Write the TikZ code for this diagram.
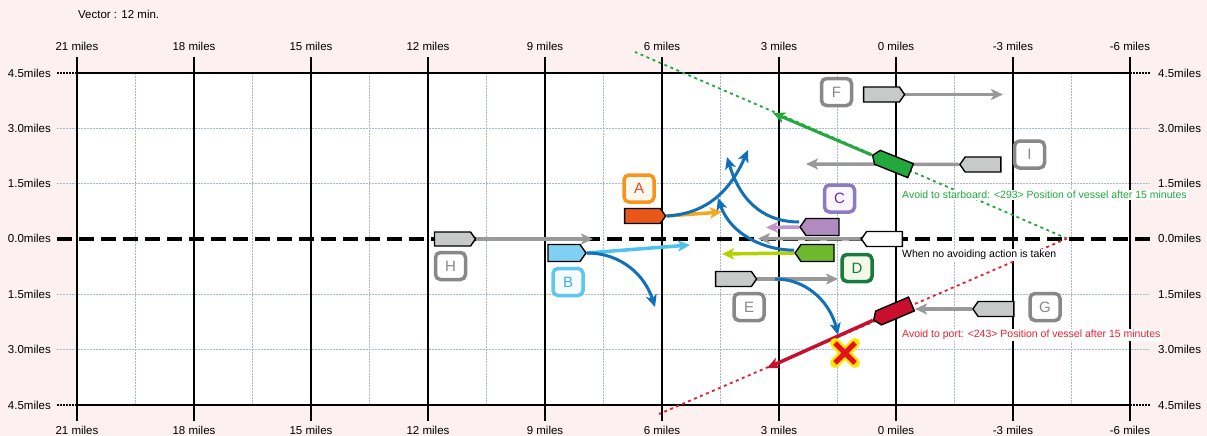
\documentclass[tikz,border=0pt]{standalone}
\usepackage{fontspec}
\setmainfont{Liberation Sans}
\usetikzlibrary{arrows.meta,shapes.symbols}

\definecolor{bgpink}{HTML}{FCF0F0}
\definecolor{gridblue}{HTML}{A8B8C6}
\definecolor{shipgray}{HTML}{C8CAC9}
\definecolor{arrowgray}{HTML}{999999}
\definecolor{tracblue}{HTML}{1270B8}
\definecolor{shipA}{HTML}{E8561A}
\definecolor{shipB}{HTML}{7FD0F2}
\definecolor{shipC}{HTML}{B18BBF}
\definecolor{shipD}{HTML}{6DB82E}
\definecolor{arrA}{HTML}{F6A81C}
\definecolor{arrB}{HTML}{4FC1EE}
\definecolor{arrC}{HTML}{C095CC}
\definecolor{arrD}{HTML}{B3D000}
\definecolor{stbgreen}{HTML}{22A83C}
\definecolor{portred}{HTML}{C8102E}
\definecolor{portline}{HTML}{E8202F}
\definecolor{tagAline}{HTML}{F7941D}
\definecolor{tagAfill}{HTML}{FFF8EC}
\definecolor{tagAtext}{HTML}{E8462A}
\definecolor{tagBline}{HTML}{5EC6F0}
\definecolor{tagBfill}{HTML}{F5FBFE}
\definecolor{tagBtext}{HTML}{3FAEE6}
\definecolor{tagCline}{HTML}{8C7BC0}
\definecolor{tagCfill}{HTML}{F9F7FD}
\definecolor{tagCtext}{HTML}{7030A0}
\definecolor{tagDline}{HTML}{187A3C}
\definecolor{tagDfill}{HTML}{F3F8E8}
\definecolor{tagGline}{HTML}{888888}
\definecolor{crossyellow}{HTML}{FFE600}
\definecolor{crossred}{HTML}{E8101A}

\pgfdeclarelayer{base}
\pgfdeclarelayer{tracks}
\pgfsetlayers{base,tracks,main}

\begin{document}
\begin{tikzpicture}[x=1pt,y=-1pt,
  axislabel/.style={font=\fontsize{11.5}{12}\selectfont, inner sep=0pt},
  minorgrid/.style={draw=gridblue, line width=1.3pt, dash pattern=on 1.5pt off 1.5pt},
  ship/.style={signal, draw=black, line width=1.4pt, minimum width=41pt,
    minimum height=15pt, inner sep=0pt, signal pointer angle=110},
  shipR/.style={ship, signal to=east},
  shipL/.style={ship, signal to=west},
  tag/.style={draw, line width=3.5pt, rounded corners=5pt, minimum width=30pt,
    minimum height=27pt, inner sep=0pt, font=\fontsize{15}{15}\selectfont},
  graytag/.style={tag, draw=tagGline, fill=white, text=tagGline},
  head/.style={-{Stealth[length=12pt,width=11pt,inset=3pt]}},
  grayarrow/.style={head, draw=arrowgray, line width=3.5pt},
  colarrow/.style={head, line width=3.5pt},
  track/.style={head, draw=tracblue, line width=3pt},
  note/.style={anchor=west, fill=white, inner sep=1pt, font=\fontsize{10.5}{12}\selectfont}
]
\useasboundingbox (0,0) rectangle (1207,436);

\begin{pgfonlayer}{base}
\fill[bgpink] (0,0) rectangle (1207,436);
\fill[white] (77,73) rectangle (1130,405);

% minor grid
\foreach \i in {0,...,8}
  \draw[minorgrid] ({135.5+117*\i},73) -- ({135.5+117*\i},405);
\foreach \y in {128.3,183.7,294.3,349.7}
  \draw[minorgrid] (57,\y) -- (1150,\y);

% outer range lines
\foreach \y in {73,405} {
  \draw[black, line width=1.4pt] (77,\y) -- (1130,\y);
  \draw[black, line width=1.2pt, dash pattern=on 1.5pt off 1.5pt] (57,\y) -- (77,\y);
  \draw[black, line width=1.2pt, dash pattern=on 1.5pt off 1.5pt] (1130,\y) -- (1150,\y);
}

% own course line
\draw[black, line width=4pt, dash pattern=on 15pt off 7pt] (57,238.5) -- (1150,238.5);

% distance axis
\foreach \i in {0,...,9}
  \draw[black, line width=2.4pt] ({77+117*\i},57) -- ({77+117*\i},421);

% position after 15 minutes and the two avoiding courses
\coordinate (p15) at (1067,238.5);
\coordinate (stbEnd) at (635,52);
\coordinate (portEnd) at (659,414);
\draw[stbgreen, line width=1.8pt, dash pattern=on 3pt off 3.5pt] (p15) -- (stbEnd);
\draw[portline, line width=1.8pt, dash pattern=on 3pt off 3.5pt] (p15) -- (portEnd);
\end{pgfonlayer}

\node[anchor=west, font=\fontsize{11.5}{12}\selectfont, inner sep=0pt] (vec) at (78,14) {Vector : 12 min.};
\foreach \m [count=\i from 0] in {21,18,15,12,9,6,3,0,-3,-6} {
  \node[axislabel] (top\i) at ({77+117*\i},46) {\m{} miles};
  \node[axislabel] (bot\i) at ({77+117*\i},430) {\m{} miles};
}
\foreach \t/\y [count=\j] in {4.5/73,3.0/128.3,1.5/183.7,0.0/238.5,1.5/294.3,3.0/349.7,4.5/405} {
  \node[axislabel, anchor=east] (lft\j) at (51,\y) {\t miles};
  \node[axislabel, anchor=west] (rgt\j) at (1158,\y) {\t miles};
}

% vessels
\node[shipR, fill=shipA] (A) at (642.5,216) {};
\node[shipR, fill=shipB, minimum height=17pt, minimum width=38pt] (B) at (564,253) {};
\node[shipR, fill=shipgray, minimum height=14pt] (H) at (452.5,239) {};
\node[shipL, fill=shipC, minimum height=17pt, minimum width=39pt] (C) at (822.5,227) {};
\node[shipL, fill=shipD, minimum height=17pt, minimum width=39pt] (D) at (817.5,253) {};
\node[shipR, fill=shipgray] (E) at (733.5,279) {};
\node[shipL, fill=white] (own) at (884.5,239) {};
\node[shipR, fill=shipgray] (F) at (881.5,94.5) {};
\node[shipL, fill=shipgray] (I) at (983,164.5) {};
\node[shipL, fill=shipgray] (G) at (996,309) {};
% own vessel after avoiding action
\node[shipR, fill=stbgreen, rotate=158] (stb) at (894,164) {};
\node[shipR, fill=portred, rotate=203] (port) at (895,311) {};

\begin{pgfonlayer}{tracks}
% predicted motion vectors
\coordinate (hEnd) at (593,239);
\coordinate (ownEnd) at (758,238.5);
\coordinate (eEnd) at (838,279);
\coordinate (fEnd) at (1003,94.5);
\coordinate (iEnd) at (806,164);
\coordinate (gEnd) at (915,309);
\coordinate (aEnd) at (722,212);
\coordinate (bEnd) at (690,245);
\coordinate (cEnd) at (766,227.5);
\coordinate (dEnd) at (722,254);
\draw[grayarrow] (H.east) -- (hEnd);
\draw[grayarrow] (own.west) -- (ownEnd);
\draw[grayarrow] (E.east) -- (eEnd);
\draw[grayarrow] (F.east) -- (fEnd);
\draw[grayarrow] (I.west) -- (iEnd);
\draw[grayarrow] (G.west) -- (gEnd);
\draw[colarrow, draw=arrA] (A.east) -- (aEnd);
\draw[colarrow, draw=arrB] (B.east) -- (bEnd);
\draw[colarrow, draw=arrC] (C.west) -- (cEnd);
\draw[colarrow, draw=arrD] (D.west) -- (dEnd);

% possible turning tracks
\coordinate (aTurn) at (748,150);
\coordinate (bTurn) at (655,307);
\coordinate (cTurn) at (727,157);
\coordinate (dTurn) at (718,198);
\coordinate (eStart) at (775,279);
\coordinate (eTurn) at (838,335);
\draw[track] (A.east) .. controls (702,214) and (728,196) .. (aTurn);
\draw[track] (B.east) .. controls (622,253) and (645,276) .. (bTurn);
\draw[track] ([yshift=5pt]C.west) .. controls (768,222) and (742,206) .. (cTurn);
\draw[track] ([yshift=3pt]D.west) .. controls (768,251) and (731,236) .. (dTurn);
\draw[track] (eStart) .. controls (810,279) and (831,306) .. (eTurn);

% avoiding courses
\coordinate (stbArr) at (773,113);
\coordinate (portArr) at (767,368);
\draw[head, draw=stbgreen, line width=3pt] (stb.east) -- (stbArr);
\draw[head, draw=portred, line width=3.5pt] (port.east) -- (portArr);
\end{pgfonlayer}

% collision mark
\coordinate (hit) at (845,353);
\draw[crossyellow, line width=10pt, line cap=round] ([shift={(-10pt,-10pt)}]hit) -- ([shift={(10pt,10pt)}]hit);
\draw[crossyellow, line width=10pt, line cap=round] ([shift={(-10pt,10pt)}]hit) -- ([shift={(10pt,-10pt)}]hit);
\draw[crossred, line width=5pt] ([shift={(-10pt,-10pt)}]hit) -- ([shift={(10pt,10pt)}]hit);
\draw[crossred, line width=5pt] ([shift={(-10pt,10pt)}]hit) -- ([shift={(10pt,-10pt)}]hit);

% vessel tags
\node[tag, draw=tagAline, fill=tagAfill, text=tagAtext] (tA) at (639,188.5) {A};
\node[tag, draw=tagBline, fill=tagBfill, text=tagBtext] (tB) at (568,282) {B};
\node[tag, draw=tagCline, fill=tagCfill, text=tagCtext] (tC) at (839.5,198.5) {C};
\node[tag, draw=tagDline, fill=tagDfill, text=tagDline] (tD) at (857,268) {D};
\node[graytag] (tE) at (749,307) {E};
\node[graytag] (tF) at (836.5,92) {F};
\node[graytag] (tG) at (1045,307) {G};
\node[graytag] (tH) at (450.5,266) {H};
\node[graytag] (tI) at (1029.5,154.5) {I};

% notes
\node[note, text=stbgreen] (nStb) at (901,195) {Avoid to starboard: <293> Position of vessel after 15 minutes};
\node[note, text=black] (nNone) at (901,255) {When no avoiding action is taken};
\node[note, text=portline] (nPort) at (901,335) {Avoid to port: <243> Position of vessel after 15 minutes};
\end{tikzpicture}
\end{document}
